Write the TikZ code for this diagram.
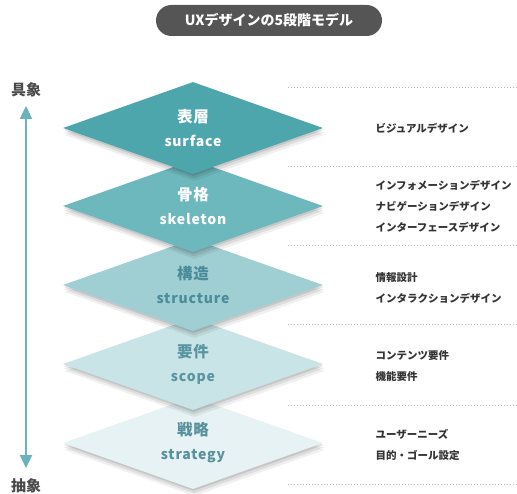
\documentclass[tikz,border=0pt]{standalone}
\usepackage{fontspec}
\setmainfont{Noto Sans CJK JP}
\newfontfamily\jp{Noto Sans CJK JP}
\newfontfamily\jpsp[LetterSpace=6]{Noto Sans CJK JP}
\usetikzlibrary{shapes.geometric,arrows.meta}
\definecolor{pillgray}{HTML}{555555}
\definecolor{dotgray}{HTML}{B8B8B8}
\definecolor{txtgray}{HTML}{333333}
\definecolor{sidegray}{HTML}{4A4A4A}
\definecolor{arrowteal}{HTML}{6AB3BA}
\definecolor{cA}{HTML}{4EA6AD}
\definecolor{cB}{HTML}{6DB8BD}
\definecolor{cC}{HTML}{A0CFD3}
\definecolor{cD}{HTML}{C9E4E6}
\definecolor{cE}{HTML}{E6F2F3}
\definecolor{tC}{HTML}{4A8C99}
\definecolor{tD}{HTML}{5894A1}
\definecolor{tE}{HTML}{58909C}
\newcommand{\jpbig}{\fontsize{15.5}{24}\selectfont}
\tikzset{
  tier/.style={diamond, aspect=2.83, minimum width=260pt, minimum height=92pt,
    inner sep=0pt, fill=#1, align=center,
    font=\jpsp\bfseries\fontsize{14}{24}\selectfont,
    preaction={fill=black, fill opacity=0.06, transform canvas={xshift=1.5pt, yshift=-7pt}},
    preaction={fill=black, fill opacity=0.08, transform canvas={xshift=1pt, yshift=-4.5pt}},
    preaction={fill=black, fill opacity=0.10, transform canvas={xshift=0.5pt, yshift=-2pt}}},
  sep/.style={dotgray, line width=1pt, dash pattern=on 1.2pt off 1.8pt},
  info/.style={anchor=west, align=left, text=txtgray, font=\jp\bfseries\fontsize{10.5}{21}\selectfont},
  side/.style={text=sidegray, font=\jp\bfseries\fontsize{15}{17}\selectfont},
}
\begin{document}
\begin{tikzpicture}[x=1pt,y=-1pt]
\useasboundingbox (0,0) rectangle (517,494);
% title
\node[fill=pillgray, rounded corners=15.5pt, minimum width=226pt, minimum height=31pt, inner sep=0pt,
  text=white, font=\jp\bfseries\fontsize{14}{16}\selectfont] (title) at (269,20.5) {UXデザインの5段階モデル};
% separators
\foreach \y [count=\i] in {88,167,246,325,405,484}{
  \coordinate (sl\i) at (288,\y);
  \coordinate (sr\i) at (517,\y);
  \draw[sep] (sl\i) -- (sr\i);
}
% layers (bottom first)
\node[tier=cE, text=tE] (strategy) at (193,443) {{\jpbig 戦略}\\strategy};
\node[tier=cD, text=tD] (scope) at (193,364) {{\jpbig 要件}\\scope};
\node[tier=cC, text=tC] (structure) at (193,285) {{\jpbig 構造}\\structure};
\node[tier=cB, text=white] (skeleton) at (193,206) {{\jpbig 骨格}\\skeleton};
\node[tier=cA, text=white] (surface) at (193,128) {{\jpbig 表層}\\surface};
% info texts
\node[info] (iA) at (372,128) {ビジュアルデザイン};
\node[info] (iB) at (372,206) {インフォメーションデザイン\\ナビゲーションデザイン\\インターフェースデザイン};
\node[info] (iC) at (372,288) {情報設計\\インタラクションデザイン};
\node[info] (iD) at (372,366.5) {コンテンツ要件\\機能要件};
\node[info] (iE) at (372,444.5) {ユーザーニーズ\\目的・ゴール設定};
% side axis
\node[side] (concrete) at (26,90) {具象};
\node[side] (abstract) at (26,486) {抽象};
\coordinate (atop) at (26,106);
\coordinate (abot) at (26,468);
\draw[arrowteal, line width=2.4pt, {Triangle[width=12pt,length=13pt]}-{Triangle[width=12pt,length=13pt]}] (atop) -- (abot);
\end{tikzpicture}
\end{document}
